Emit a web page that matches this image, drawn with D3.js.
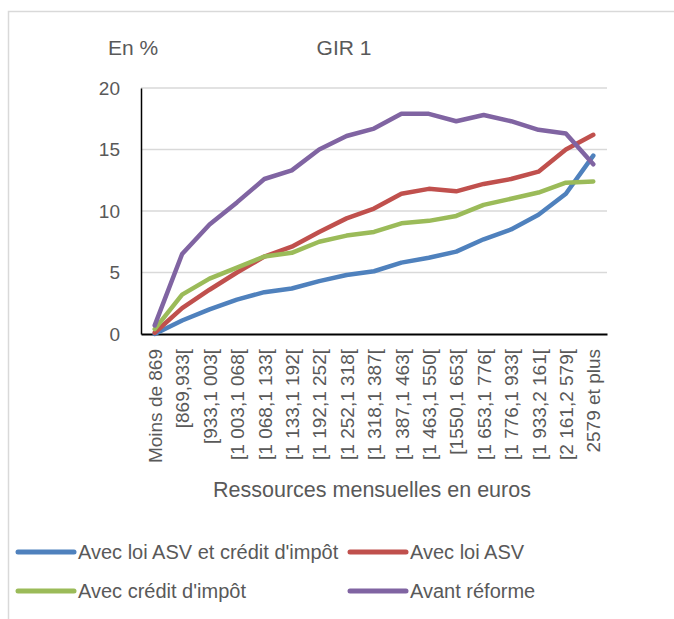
<!DOCTYPE html>
<html>
<head>
<meta charset="utf-8">
<script src="https://cdn.jsdelivr.net/npm/d3@7"></script>
<style>
  body { margin: 0; background: #fff; }
  text { font-family: "Liberation Sans", Arial, sans-serif; fill: #595959; }
</style>
</head>
<body>
<div id="chart"></div>
<script>
// Tranches de ressources (axe des x)
const categories = [
    "Moins de 869", "[869,933[", "[933,1 003[", "[1 003,1 068[", "[1 068,1 133[",
    "[1 133,1 192[", "[1 192,1 252[", "[1 252,1 318[", "[1 318,1 387[", "[1 387,1 463[",
    "[1 463,1 550[", "[1550,1 653[", "[1 653,1 776[", "[1 776,1 933[", "[1 933,2 161[",
    "[2 161,2 579[", "2579 et plus"
];

// Valeurs en %
const avecAsvEtCredit = [0.0, 1.1, 2.0, 2.8, 3.4, 3.7, 4.3, 4.8, 5.1, 5.8, 6.2, 6.7, 7.7, 8.5, 9.7, 11.4, 14.5];
const avecAsv = [0.1, 2.1, 3.6, 5.0, 6.3, 7.1, 8.3, 9.4, 10.2, 11.4, 11.8, 11.6, 12.2, 12.6, 13.2, 15.0, 16.2];
const avecCredit = [0.4, 3.2, 4.5, 5.4, 6.3, 6.6, 7.5, 8.0, 8.3, 9.0, 9.2, 9.6, 10.5, 11.0, 11.5, 12.3, 12.4];
const avantReforme = [0.7, 6.5, 8.9, 10.7, 12.6, 13.3, 15.0, 16.1, 16.7, 17.9, 17.9, 17.3, 17.8, 17.3, 16.6, 16.3, 13.8];

const yTicks = [0, 5, 10, 15, 20];

const series = [
    { name: "Avec loi ASV et crédit d'impôt", values: avecAsvEtCredit, color: "#4f81bd" },
    { name: "Avec loi ASV", values: avecAsv, color: "#c0504d" },
    { name: "Avec crédit d'impôt", values: avecCredit, color: "#9bbb59" },
    { name: "Avant réforme", values: avantReforme, color: "#8064a2" }
];

const width = 674;
const height = 619;

const svg = d3.select("#chart")
    .append("svg")
    .attr("width", width)
    .attr("height", height);

// Cadre du graphique
svg.append("rect")
    .attr("x", 8.5)
    .attr("y", 11.5)
    .attr("width", 700)
    .attr("height", 700)
    .attr("fill", "none")
    .attr("stroke", "#d9d9d9")
    .attr("stroke-width", 1.5);

const x = d3.scalePoint()
    .domain(categories)
    .range([141, 607])
    .padding(0.5);

const y = d3.scaleLinear()
    .domain([0, 20])
    .range([334, 88]);

// Grille horizontale
svg.append("g")
    .selectAll("line")
    .data(yTicks.filter(d => d > 0))
    .enter().append("line")
    .attr("x1", 141)
    .attr("x2", 607)
    .attr("y1", d => y(d))
    .attr("y2", d => y(d))
    .attr("stroke", "#d9d9d9")
    .attr("stroke-width", 1.5);

// Axe des y
const yAxis = svg.append("g")
    .attr("transform", "translate(141,0)")
    .call(d3.axisLeft(y).tickValues(yTicks).tickSize(0).tickPadding(21));
yAxis.select(".domain").attr("stroke", "#000").attr("stroke-width", 1.5);
yAxis.selectAll("text")
    .style("font-size", "19px")
    .attr("fill", "#595959");

// Axe des x
const xAxis = svg.append("g")
    .attr("transform", "translate(0,334)")
    .call(d3.axisBottom(x).tickSize(0));
xAxis.select(".domain").attr("stroke", "#000").attr("stroke-width", 2);
xAxis.selectAll("text")
    .style("font-size", "19px")
    .attr("fill", "#595959")
    .attr("text-anchor", "end")
    .attr("transform", "rotate(-90)")
    .attr("x", -15)
    .attr("y", 0)
    .attr("dy", "0.35em");

// Courbes
const line = d3.line()
    .x((d, i) => x(categories[i]))
    .y(d => y(d));

svg.append("g")
    .selectAll("path")
    .data(series)
    .enter().append("path")
    .attr("d", d => line(d.values))
    .attr("fill", "none")
    .attr("stroke", d => d.color)
    .attr("stroke-width", 4.5)
    .attr("stroke-linejoin", "round")
    .attr("stroke-linecap", "round");

// Titres
svg.append("text")
    .attr("x", 108)
    .attr("y", 55)
    .style("font-size", "21px")
    .text("En %");

svg.append("text")
    .attr("x", 344)
    .attr("y", 55)
    .attr("text-anchor", "middle")
    .style("font-size", "21px")
    .text("GIR 1");

svg.append("text")
    .attr("x", 372)
    .attr("y", 497)
    .attr("text-anchor", "middle")
    .style("font-size", "21.5px")
    .text("Ressources mensuelles en euros");

// Légende
const legendPos = [
    { x: 18, y: 552 },
    { x: 350, y: 552 },
    { x: 18, y: 591 },
    { x: 350, y: 591 }
];

const legend = svg.append("g")
    .selectAll("g")
    .data(series)
    .enter().append("g")
    .attr("transform", (d, i) => `translate(${legendPos[i].x},${legendPos[i].y})`);

legend.append("line")
    .attr("x1", 0)
    .attr("x2", 56)
    .attr("stroke", d => d.color)
    .attr("stroke-width", 5)
    .attr("stroke-linecap", "round");

legend.append("text")
    .attr("x", 60)
    .attr("y", 7)
    .style("font-size", "20px")
    .text(d => d.name);
</script>
</body>
</html>
